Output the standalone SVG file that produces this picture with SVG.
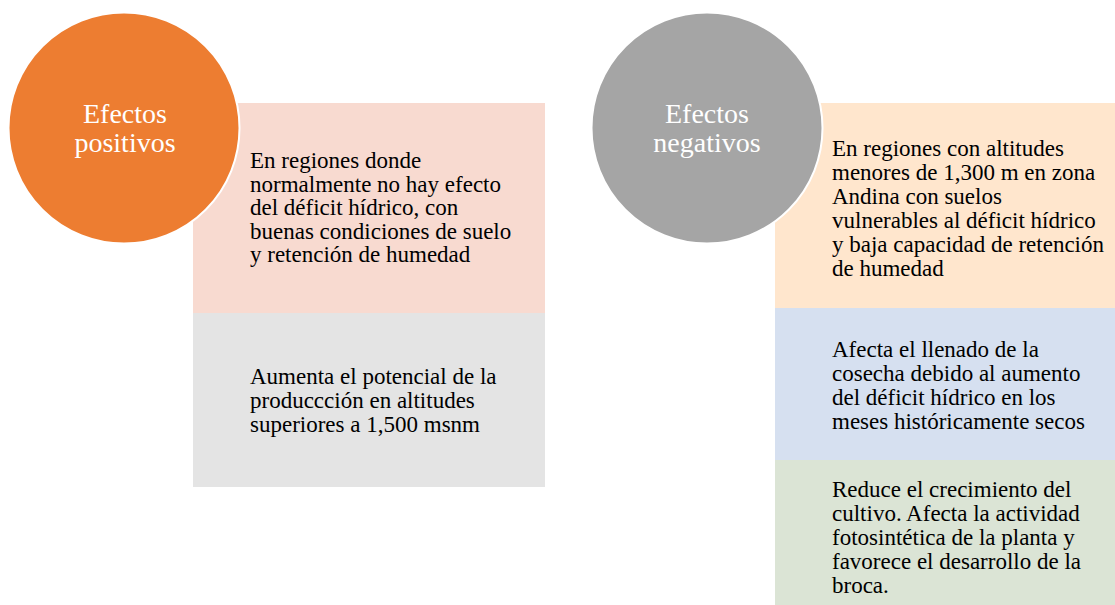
<svg xmlns="http://www.w3.org/2000/svg" width="1115" height="605" viewBox="0 0 1115 605">
<style>
.body{font-family:"Liberation Serif","Times New Roman",serif;font-size:23px;fill:#000}
.head{font-family:"Liberation Serif","Times New Roman",serif;font-size:28px;fill:#fff;text-anchor:middle}
.circ{stroke:#fff;stroke-width:2}
</style>
<rect width="1115" height="605" fill="#fff"/>
<g id="connectors"></g>
<g id="pos-box1">
<rect x="193" y="103" width="352" height="210" fill="#F8DAD0"/>
<text class="body"><tspan x="250" y="168">En regiones donde</tspan><tspan x="250" y="191.5">normalmente no hay efecto</tspan><tspan x="250" y="215">del déficit hídrico, con</tspan><tspan x="250" y="238.5">buenas condiciones de suelo</tspan><tspan x="250" y="262">y retención de humedad</tspan></text>
</g>
<g id="pos-box2">
<rect x="193" y="313" width="352" height="174" fill="#E4E4E4"/>
<text class="body"><tspan x="250" y="384">Aumenta el potencial de la</tspan><tspan x="250" y="408">produccción en altitudes</tspan><tspan x="250" y="432">superiores a 1,500 msnm</tspan></text>
</g>
<g id="pos-circle">
<circle class="circ" cx="124" cy="128" r="115.5" fill="#ED7D31"/>
<text class="head"><tspan x="125" y="123">Efectos</tspan><tspan x="125" y="152">positivos</tspan></text>
</g>
<g id="neg-box1">
<rect x="775" y="103" width="340" height="205" fill="#FFE6CD"/>
<text class="body"><tspan x="832" y="156">En regiones con altitudes</tspan><tspan x="832" y="180">menores de 1,300 m en zona</tspan><tspan x="832" y="204">Andina con suelos</tspan><tspan x="832" y="228">vulnerables al déficit hídrico</tspan><tspan x="832" y="252">y baja capacidad de retención</tspan><tspan x="832" y="276">de humedad</tspan></text>
</g>
<g id="neg-box2">
<rect x="775" y="308" width="340" height="152" fill="#D6E0F0"/>
<text class="body"><tspan x="832" y="357">Afecta el llenado de la</tspan><tspan x="832" y="381">cosecha debido al aumento</tspan><tspan x="832" y="405">del déficit hídrico en los</tspan><tspan x="832" y="429">meses históricamente secos</tspan></text>
</g>
<g id="neg-box3">
<rect x="775" y="460" width="340" height="145" fill="#DBE4D5"/>
<text class="body"><tspan x="832" y="497">Reduce el crecimiento del</tspan><tspan x="832" y="521">cultivo. Afecta la actividad</tspan><tspan x="832" y="545">fotosintética de la planta y</tspan><tspan x="832" y="569">favorece el desarrollo de la</tspan><tspan x="832" y="593">broca.</tspan></text>
</g>
<g id="neg-circle">
<circle class="circ" cx="707" cy="128" r="115.5" fill="#A5A5A5"/>
<text class="head"><tspan x="707" y="123">Efectos</tspan><tspan x="707" y="152">negativos</tspan></text>
</g>
</svg>
